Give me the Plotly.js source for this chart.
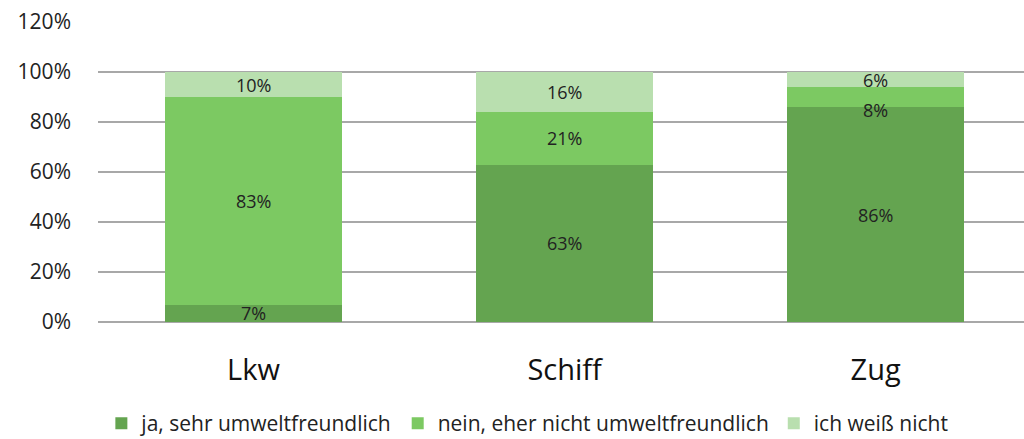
<!DOCTYPE html>
<html><head><meta charset="utf-8">
<script src="https://cdn.plot.ly/plotly-3.0.1.min.js"></script>
<style>html,body{margin:0;padding:0;background:#fff}</style>
</head><body>
<div id="chart" style="width:1024px;height:439px"></div>
<script>
const categories = ["Lkw", "Schiff", "Zug"];
const seriesNames = ["ja, sehr umweltfreundlich", "nein, eher nicht umweltfreundlich", "ich weiß nicht"];
const ja = [7, 63, 86];
const nein = [83, 21, 8];
const weissNicht = [10, 16, 6];
const yTickVals = [0, 20, 40, 60, 80, 100, 120];
const yTickText = ["0%", "20%", "40%", "60%", "80%", "100%", "120%"];
const colors = ["#64a450", "#7cc962", "#b9dfaf"];

const values = [ja, nein, weissNicht];
const traces = values.map((v, i) => ({
  type: "bar",
  name: seriesNames[i],
  x: categories,
  y: v,
  marker: {color: colors[i], line: {width: 0}},
  hoverinfo: "none"
}));

// data labels centred in each segment; a small segment sitting under another small one
// gets its label nudged down (as in the reference) so the two labels don't collide
const annotations = [];
categories.forEach((c, j) => {
  let base = 0;
  values.forEach((v, i) => {
    const above = i + 1 < values.length ? values[i + 1][j] : null;
    const crowded = v[j] < 10 && above !== null && above < 10;
    annotations.push({
      x: c, y: base + v[j] / 2, xref: "x", yref: "y",
      text: v[j] + "%", showarrow: false,
      yshift: crowded ? -13 : 0,
      font: {family: "Open Sans, sans-serif", size: 18, color: "#222"}
    });
    base += v[j];
  });
});

const layout = {
  width: 1024, height: 439,
  margin: {l: 98, r: 0, t: 22, b: 117},
  barmode: "stack",
  bargap: 0.43,
  paper_bgcolor: "#fff", plot_bgcolor: "#fff",
  font: {family: "Open Sans, sans-serif", color: "#222"},
  annotations: annotations,
  xaxis: {
    range: [-0.5, 2.477],
    showgrid: false, showline: false, zeroline: false,
    ticks: "",
    tickfont: {size: 29, color: "#111"},
    ticklabelstandoff: 28
  },
  yaxis: {
    range: [0, 120],
    tickvals: yTickVals, ticktext: yTickText,
    showgrid: true, gridcolor: "#a8a8a8", gridwidth: 1.5,
    zeroline: true, zerolinecolor: "#a8a8a8", zerolinewidth: 1.5,
    showline: false, ticks: "",
    tickfont: {size: 21, color: "#222"},
    ticklabelstandoff: 26
  },
  showlegend: true,
  legend: {
    orientation: "h",
    xref: "container", yref: "container",
    x: 0.515, xanchor: "center",
    y: 0.035, yanchor: "middle",
    font: {size: 21, color: "#222"},
    traceorder: "normal",
    itemwidth: 30,
    entrywidthmode: "pixels"
  }
};

Plotly.newPlot("chart", traces, layout, {displayModeBar: false, staticPlot: true});
</script>
</body></html>
